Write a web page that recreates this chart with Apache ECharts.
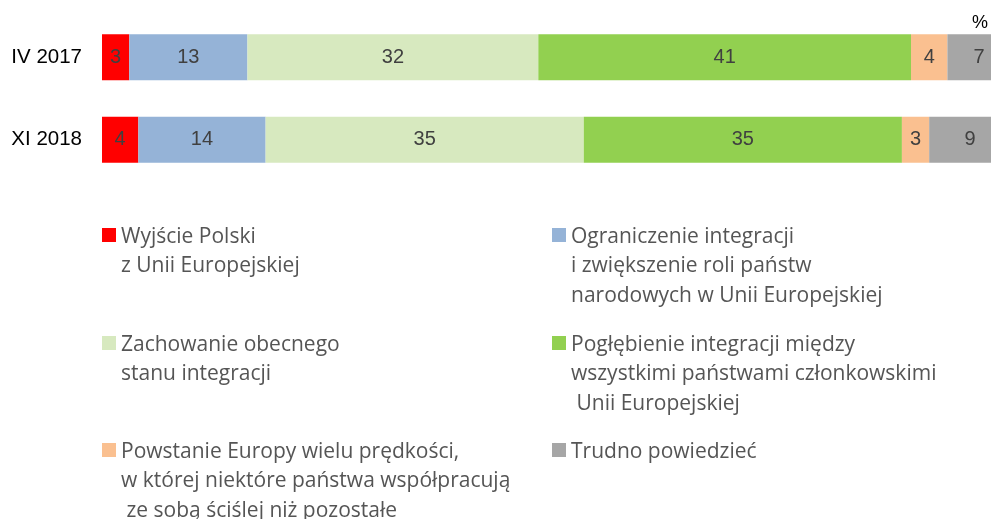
<!DOCTYPE html>
<html>
<head>
<meta charset="utf-8">
<script src="https://cdn.jsdelivr.net/npm/echarts@6/dist/echarts.min.js"></script>
<style>
  html, body { margin: 0; padding: 0; background: #fff; }
  #chart { width: 991px; height: 519px; }
</style>
</head>
<body>
<div id="chart"></div>
<script>
// okresy badania
const periods = ['IV 2017', 'XI 2018']

// odpowiedzi (kolejność w słupku)
const answers = [
    'Wyjście Polski\nz Unii Europejskiej',
    'Ograniczenie integracji\ni zwiększenie roli państw\nnarodowych w Unii Europejskiej',
    'Zachowanie obecnego\nstanu integracji',
    'Pogłębienie integracji między\nwszystkimi państwami członkowskimi\n Unii Europejskiej',
    'Powstanie Europy wielu prędkości,\nw której niektóre państwa współpracują\n ze sobą ściślej niż pozostałe',
    'Trudno powiedzieć'
]
const colors = ['#FF0000', '#95B3D7', '#D7E9BF', '#92D050', '#FAC090', '#A6A6A6']

// wartości w % dla kolejnych odpowiedzi: [IV 2017, XI 2018]
const wyjscie = [3, 4]
const ograniczenie = [13, 14]
const zachowanie = [32, 35]
const poglebienie = [41, 35]
const predkosci = [4, 3]
const trudno = [7, 9]
const values = [wyjscie, ograniczenie, zachowanie, poglebienie, predkosci, trudno]

const chart = echarts.init(document.getElementById('chart'))

const series = answers.map((name, idx) => ({
    name: name,
    type: 'bar',
    stack: 'all',
    barWidth: 46,
    itemStyle: { color: colors[idx] },
    label: {
        show: true,
        position: 'inside',
        color: '#404040',
        fontFamily: 'Liberation Sans',
        fontSize: 20
    },
    emphasis: { disabled: true },
    data: values[idx]
}))

// legenda rysowana ręcznie (ikona przy pierwszym wierszu tekstu)
const legendCols = [102, 552]
const legendRows = [235, 343, 450]
const legendGraphic = []
answers.forEach((name, idx) => {
    const x = legendCols[idx % 2]
    const y = legendRows[Math.floor(idx / 2)]
    legendGraphic.push({
        type: 'rect',
        left: x, top: y - 7,
        shape: { width: 14, height: 14 },
        style: { fill: colors[idx] }
    })
    legendGraphic.push({
        type: 'text',
        left: x + 19, top: y - 13,
        style: {
            text: name,
            fill: '#555555',
            font: '21px "Open Sans"',
            lineHeight: 29.5
        }
    })
})

const option = {
    animation: false,
    // słupek 100% wychodzi poza prawą krawędź (jak w oryginale)
    grid: { left: 102, top: 16, width: 909, height: 165, outerBoundsMode: 'none' },
    xAxis: {
        type: 'value',
        min: 0,
        max: 100,
        show: false
    },
    yAxis: {
        type: 'category',
        inverse: true,
        data: periods,
        axisLine: { show: false },
        axisTick: { show: false },
        axisLabel: {
            color: '#000',
            fontFamily: 'Liberation Sans',
            fontSize: 20.5,
            margin: 20
        }
    },
    graphic: [
        {
            type: 'text',
            right: 3, top: 14,
            style: { text: '%', fill: '#000', font: '18px "Liberation Sans"' }
        },
        ...legendGraphic
    ],
    series: series
}
chart.setOption(option)
</script>
</body>
</html>
